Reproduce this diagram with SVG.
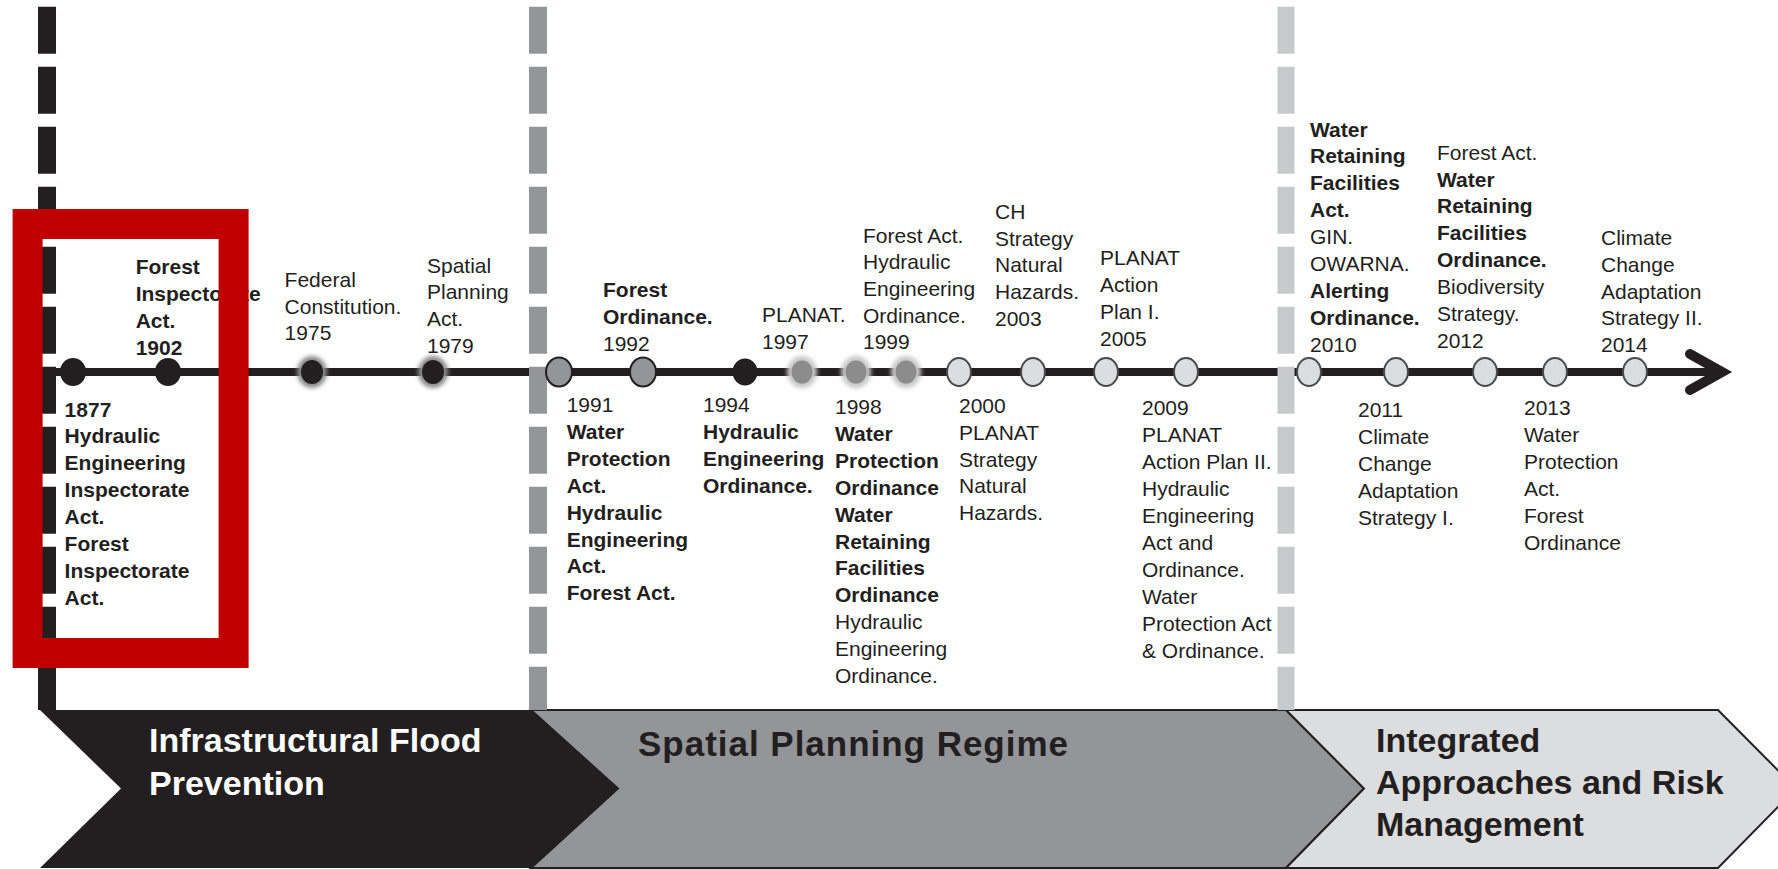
<svg xmlns="http://www.w3.org/2000/svg" width="1778" height="869" viewBox="0 0 1778 869">
<defs>
<style>
.t{font-family:"Liberation Sans",Arial,Helvetica,sans-serif;font-size:21px;fill:#231f20}
.b{font-weight:bold}
.ph{font-family:"Liberation Sans",Arial,Helvetica,sans-serif;font-size:34px;font-weight:bold}
.dash{stroke-dasharray:47 13;fill:none}
.blk{fill:#231f20}
.mid{fill:#939598;stroke:#231f20;stroke-width:2}
.lt{fill:#dcddde;stroke:#4a4a4a;stroke-width:2}
.halo{filter:url(#soft)}
</style>
<filter id="soft" x="-50%" y="-50%" width="200%" height="200%"><feGaussianBlur stdDeviation="2.2"/></filter>
</defs>
<rect width="1778" height="869" fill="#ffffff"/>

<g id="phases">
<g id="phase-infrastructural">
<polygon points="40,710 531,710 618,788.5 531,868 40,868 121,788.5" fill="#231f20"/>
<text class="ph" fill="#ffffff"><tspan x="149" y="752">Infrastructural Flood</tspan><tspan x="149" y="795">Prevention</tspan></text>
</g>
<g id="phase-spatial">
<polygon points="531,710 1286,710 1364,788.5 1286,868 531,868 618,788.5" fill="#939598" stroke="#231f20" stroke-width="2"/>
<text class="ph" fill="#231f20" x="638" y="756" style="font-size:35px" textLength="430" lengthAdjust="spacing">Spatial Planning Regime</text>
</g>
<g id="phase-integrated">
<polygon points="1286,710 1718,710 1796,788.5 1718,868 1286,868 1364,788.5" fill="#dcddde" stroke="#231f20" stroke-width="2"/>
<text class="ph" fill="#231f20"><tspan x="1376" y="752">Integrated</tspan><tspan x="1376" y="794">Approaches and Risk</tspan><tspan x="1376" y="836">Management</tspan></text>
</g>
</g>

<g id="connectors">
<line x1="56" y1="372" x2="1718" y2="372" stroke="#231f20" stroke-width="8"/>
<polyline points="1690,354 1722,372 1690,390" fill="none" stroke="#231f20" stroke-width="10" stroke-linecap="round" stroke-linejoin="miter" stroke-miterlimit="10"/>
</g>

<g id="dividers">
<line class="dash" x1="47" y1="6.7" x2="47" y2="710" stroke="#231f20" stroke-width="18"/>
<line class="dash" x1="538" y1="6.7" x2="538" y2="710" stroke="#939598" stroke-width="18"/>
<line class="dash" x1="1286" y1="6.7" x2="1286" y2="710" stroke="#c8c9cb" stroke-width="17"/>
</g>

<g id="e1877">
<ellipse class="blk" cx="73" cy="372" rx="13" ry="14"/>
<text class="t b"><tspan x="64.6" y="416.5">1877</tspan><tspan x="64.6" dy="26.9">Hydraulic</tspan><tspan x="64.6" dy="26.9">Engineering</tspan><tspan x="64.6" dy="26.9">Inspectorate</tspan><tspan x="64.6" dy="26.9">Act.</tspan><tspan x="64.6" dy="26.9">Forest</tspan><tspan x="64.6" dy="26.9">Inspectorate</tspan><tspan x="64.6" dy="26.9">Act.</tspan></text>
</g>
<g id="e1902">
<ellipse class="blk" cx="168" cy="372" rx="13" ry="14"/>
<text class="t b"><tspan x="135.7" y="274">Forest</tspan><tspan x="135.7" dy="26.9">Inspectorate</tspan><tspan x="135.7" dy="26.9">Act.</tspan><tspan x="135.7" dy="26.9">1902</tspan></text>
</g>
<g id="e1975">
<ellipse class="halo" cx="312" cy="372" rx="15" ry="16" fill="#8a8a8a"/>
<ellipse class="blk" cx="312" cy="372" rx="11" ry="12"/>
<text class="t"><tspan x="284.6" y="287">Federal</tspan><tspan x="284.6" dy="26.7">Constitution.</tspan><tspan x="284.6" dy="26.7">1975</tspan></text>
</g>
<g id="e1979">
<ellipse class="halo" cx="433" cy="372" rx="15" ry="16" fill="#8a8a8a"/>
<ellipse class="blk" cx="433" cy="372" rx="11" ry="12"/>
<text class="t"><tspan x="427" y="272.5">Spatial</tspan><tspan x="427" dy="26.8">Planning</tspan><tspan x="427" dy="26.8">Act.</tspan><tspan x="427" dy="26.8">1979</tspan></text>
</g>
<g id="e1991">
<ellipse class="mid" cx="559" cy="372" rx="13" ry="14.5"/>
<text class="t"><tspan x="566.7" y="412">1991</tspan><tspan class="b" x="566.7" dy="26.9">Water</tspan><tspan class="b" x="566.7" dy="26.9">Protection</tspan><tspan class="b" x="566.7" dy="26.9">Act.</tspan><tspan class="b" x="566.7" dy="26.9">Hydraulic</tspan><tspan class="b" x="566.7" dy="26.9">Engineering</tspan><tspan class="b" x="566.7" dy="26.9">Act.</tspan><tspan class="b" x="566.7" dy="26.9">Forest Act.</tspan></text>
</g>
<g id="e1992">
<ellipse class="mid" cx="643" cy="372" rx="13" ry="14.5"/>
<text class="t"><tspan class="b" x="603" y="297">Forest</tspan><tspan class="b" x="603" dy="26.9">Ordinance.</tspan><tspan x="603" dy="26.9">1992</tspan></text>
</g>
<g id="e1994">
<ellipse class="blk" cx="745" cy="372" rx="12.5" ry="13.5"/>
<text class="t"><tspan x="703" y="412">1994</tspan><tspan class="b" x="703" dy="26.9">Hydraulic</tspan><tspan class="b" x="703" dy="26.9">Engineering</tspan><tspan class="b" x="703" dy="26.9">Ordinance.</tspan></text>
</g>
<g id="e1997">
<ellipse class="halo" cx="802" cy="372" rx="15" ry="16" fill="#c8c8c8"/>
<ellipse cx="802" cy="372" rx="10.5" ry="11.5" fill="#8c8c8c"/>
<text class="t"><tspan x="762" y="322">PLANAT.</tspan><tspan x="762" dy="27">1997</tspan></text>
</g>
<g id="e1998">
<ellipse class="halo" cx="856" cy="372" rx="15" ry="16" fill="#c8c8c8"/>
<ellipse cx="856" cy="372" rx="10.5" ry="11.5" fill="#8c8c8c"/>
<text class="t"><tspan x="835" y="414">1998</tspan><tspan class="b" x="835" dy="26.9">Water</tspan><tspan class="b" x="835" dy="26.9">Protection</tspan><tspan class="b" x="835" dy="26.9">Ordinance</tspan><tspan class="b" x="835" dy="26.9">Water</tspan><tspan class="b" x="835" dy="26.9">Retaining</tspan><tspan class="b" x="835" dy="26.9">Facilities</tspan><tspan class="b" x="835" dy="26.9">Ordinance</tspan><tspan x="835" dy="26.9">Hydraulic</tspan><tspan x="835" dy="26.9">Engineering</tspan><tspan x="835" dy="26.9">Ordinance.</tspan></text>
</g>
<g id="e1999">
<ellipse class="halo" cx="906" cy="372" rx="15" ry="16" fill="#c8c8c8"/>
<ellipse cx="906" cy="372" rx="10.5" ry="11.5" fill="#8c8c8c"/>
<text class="t"><tspan x="863" y="242.5">Forest Act.</tspan><tspan x="863" dy="26.7">Hydraulic</tspan><tspan x="863" dy="26.7">Engineering</tspan><tspan x="863" dy="26.7">Ordinance.</tspan><tspan x="863" dy="26.7">1999</tspan></text>
</g>
<g id="e2000">
<ellipse class="lt" cx="959" cy="372" rx="12" ry="14"/>
<text class="t"><tspan x="959" y="413">2000</tspan><tspan x="959" dy="26.8">PLANAT</tspan><tspan x="959" dy="26.8">Strategy</tspan><tspan x="959" dy="26.8">Natural</tspan><tspan x="959" dy="26.8">Hazards.</tspan></text>
</g>
<g id="e2003">
<ellipse class="lt" cx="1033" cy="372" rx="12" ry="14"/>
<text class="t"><tspan x="995" y="219">CH</tspan><tspan x="995" dy="26.7">Strategy</tspan><tspan x="995" dy="26.7">Natural</tspan><tspan x="995" dy="26.7">Hazards.</tspan><tspan x="995" dy="26.7">2003</tspan></text>
</g>
<g id="e2005">
<ellipse class="lt" cx="1106" cy="372" rx="12" ry="14"/>
<text class="t"><tspan x="1100" y="265">PLANAT</tspan><tspan x="1100" dy="27">Action</tspan><tspan x="1100" dy="27">Plan I.</tspan><tspan x="1100" dy="27">2005</tspan></text>
</g>
<g id="e2009">
<ellipse class="lt" cx="1186" cy="372" rx="12" ry="14"/>
<text class="t"><tspan x="1142" y="415">2009</tspan><tspan x="1142" dy="27">PLANAT</tspan><tspan x="1142" dy="27">Action Plan II.</tspan><tspan x="1142" dy="27">Hydraulic</tspan><tspan x="1142" dy="27">Engineering</tspan><tspan x="1142" dy="27">Act and</tspan><tspan x="1142" dy="27">Ordinance.</tspan><tspan x="1142" dy="27">Water</tspan><tspan x="1142" dy="27">Protection Act</tspan><tspan x="1142" dy="27">&amp; Ordinance.</tspan></text>
</g>
<g id="e2010">
<ellipse class="lt" cx="1309" cy="372" rx="12" ry="14"/>
<text class="t"><tspan class="b" x="1310" y="136.5">Water</tspan><tspan class="b" x="1310" dy="26.94">Retaining</tspan><tspan class="b" x="1310" dy="26.94">Facilities</tspan><tspan class="b" x="1310" dy="26.94">Act.</tspan><tspan x="1310" dy="26.94">GIN.</tspan><tspan x="1310" dy="26.94">OWARNA.</tspan><tspan class="b" x="1310" dy="26.94">Alerting</tspan><tspan class="b" x="1310" dy="26.94">Ordinance.</tspan><tspan x="1310" dy="26.94">2010</tspan></text>
</g>
<g id="e2011">
<ellipse class="lt" cx="1396" cy="372" rx="12" ry="14"/>
<text class="t"><tspan x="1358" y="417">2011</tspan><tspan x="1358" dy="27">Climate</tspan><tspan x="1358" dy="27">Change</tspan><tspan x="1358" dy="27">Adaptation</tspan><tspan x="1358" dy="27">Strategy I.</tspan></text>
</g>
<g id="e2012">
<ellipse class="lt" cx="1485" cy="372" rx="12" ry="14"/>
<text class="t"><tspan x="1437" y="159.6">Forest Act.</tspan><tspan class="b" x="1437" dy="26.9">Water</tspan><tspan class="b" x="1437" dy="26.9">Retaining</tspan><tspan class="b" x="1437" dy="26.9">Facilities</tspan><tspan class="b" x="1437" dy="26.9">Ordinance.</tspan><tspan x="1437" dy="26.9">Biodiversity</tspan><tspan x="1437" dy="26.9">Strategy.</tspan><tspan x="1437" dy="26.9">2012</tspan></text>
</g>
<g id="e2013">
<ellipse class="lt" cx="1555" cy="372" rx="12" ry="14"/>
<text class="t"><tspan x="1524" y="415">2013</tspan><tspan x="1524" dy="27">Water</tspan><tspan x="1524" dy="27">Protection</tspan><tspan x="1524" dy="27">Act.</tspan><tspan x="1524" dy="27">Forest</tspan><tspan x="1524" dy="27">Ordinance</tspan></text>
</g>
<g id="e2014">
<ellipse class="lt" cx="1635" cy="372" rx="12" ry="14"/>
<text class="t"><tspan x="1601" y="245">Climate</tspan><tspan x="1601" dy="26.75">Change</tspan><tspan x="1601" dy="26.75">Adaptation</tspan><tspan x="1601" dy="26.75">Strategy II.</tspan><tspan x="1601" dy="26.75">2014</tspan></text>
</g>

<g id="highlight">
<rect x="27.6" y="224" width="206" height="429" fill="none" stroke="#c00000" stroke-width="30"/>
</g>
</svg>
